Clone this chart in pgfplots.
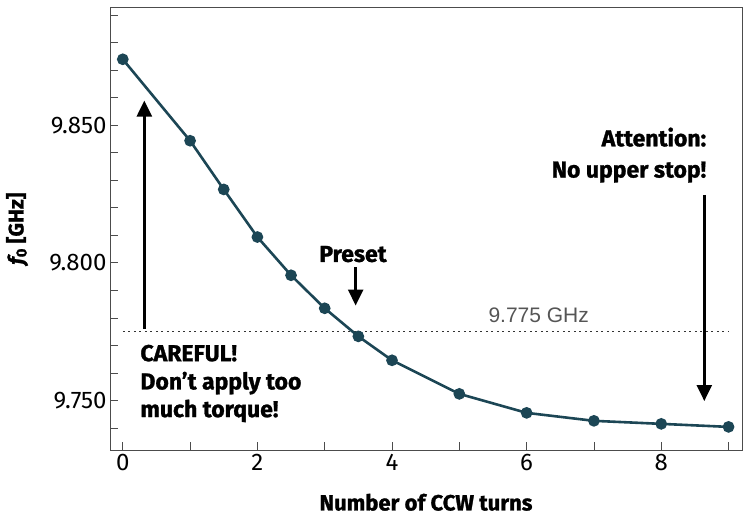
\documentclass[border=0pt]{standalone}
\usepackage{pgfplots}
\pgfplotsset{compat=1.18}
\usetikzlibrary{arrows.meta}
\usepackage{fontspec}
\setmainfont{Fira Sans}
\newfontfamily\xbfam{Fira Sans}[BoldFeatures={FakeBold=1.2},BoldItalicFeatures={FakeBold=1.2}]
\newcommand\xb{\xbfam\bfseries}
\newfontfamily\arialfont{Liberation Sans}
\newcommand\tl[1]{{\fontsize{24}{27}\selectfont #1}}
\definecolor{teal}{RGB}{28,70,85}
\definecolor{gtext}{RGB}{85,85,85}
\begin{document}
\begin{tikzpicture}[x=1pt,y=1pt]
\path[use as bounding box] (0,0) rectangle (752,515);
\begin{axis}[
  at={(110pt,65pt)}, anchor=south west,
  scale only axis, width=632pt, height=443pt,
  xmin=-0.19, xmax=9.2, ymin=9.732, ymax=9.893,
  xtick={0,2,4,6,8}, xticklabels={\tl{0},\tl{2},\tl{4},\tl{6},\tl{8}}, minor xtick={1,3,5,7,9},
  ytick={9.75,9.8,9.85}, yticklabels={\tl{9.750},\tl{9.800},\tl{9.850}},
  minor ytick={9.74,9.76,9.77,9.78,9.79,9.81,9.82,9.83,9.84,9.86,9.87,9.88,9.89},
  tick pos=left, tick align=inside,
  major tick length=8pt, minor tick length=8pt,
  every tick/.style={black!70, line width=0.8pt},
  axis line style={black!70, line width=1pt},
  xticklabel style={yshift=-1pt},
  xlabel={Number of CCW turns},
  ylabel={\itshape f\textsubscript{\upshape 0} \upshape[GHz]},
  label style={font=\xb\fontsize{21}{24}\selectfont},
  xlabel style={at={(axis description cs:0.5,-0.118)}, anchor=center, font=\xb\fontsize{22}{25}\selectfont},
  ylabel style={at={(axis description cs:-0.147,0.5)}, anchor=center},
  clip=false,
]
\addplot[black!80, dash pattern=on 2pt off 3.5pt, line width=0.9pt] coordinates {(0,9.775) (9,9.775)};
\addplot[teal, line width=2.6pt, mark=*, mark size=4.5pt, mark options={fill=teal, draw=teal}] coordinates {
(0,9.874) (1,9.8444) (1.5,9.8267) (2,9.8094) (2.5,9.7955) (3,9.7835) (3.5,9.7733) (4,9.7646) (5,9.7524) (6,9.7455) (7,9.7426) (8,9.7415) (9,9.7404)};
\draw[-{Triangle[length=16pt,width=15pt]}, black, line width=2.4pt] (axis cs:0.32,9.776) -- (axis cs:0.32,9.859);
\draw[-{Triangle[length=16pt,width=15pt]}, black, line width=2.4pt] (axis cs:3.46,9.7985) -- (axis cs:3.46,9.7845);
\draw[-{Triangle[length=16pt,width=15pt]}, black, line width=2.4pt] (axis cs:8.64,9.8247) -- (axis cs:8.64,9.7498);
\node[font=\xb\fontsize{23}{26}\selectfont] at (axis cs:3.42,9.8032) {Preset};
\node[font=\xb\fontsize{23}{26}\selectfont, anchor=east] at (axis cs:8.72,9.8457) {Attention:};
\node[font=\xb\fontsize{23}{26}\selectfont, anchor=east] at (axis cs:8.72,9.833) {No upper stop!};
\node[font=\xb\fontsize{23}{26}\selectfont, anchor=west] at (axis cs:0.21,9.7672) {CAREFUL!};
\node[font=\xb\fontsize{23}{26}\selectfont, anchor=west] at (axis cs:0.21,9.7563) {Don’t apply too};
\node[font=\xb\fontsize{23}{26}\selectfont, anchor=west] at (axis cs:0.21,9.7462) {much torque!};
\node[font=\arialfont\fontsize{21}{24}\selectfont, text=gtext] at (axis cs:6.18,9.7808) {9.775 GHz};
\end{axis}
\end{tikzpicture}
\end{document}
